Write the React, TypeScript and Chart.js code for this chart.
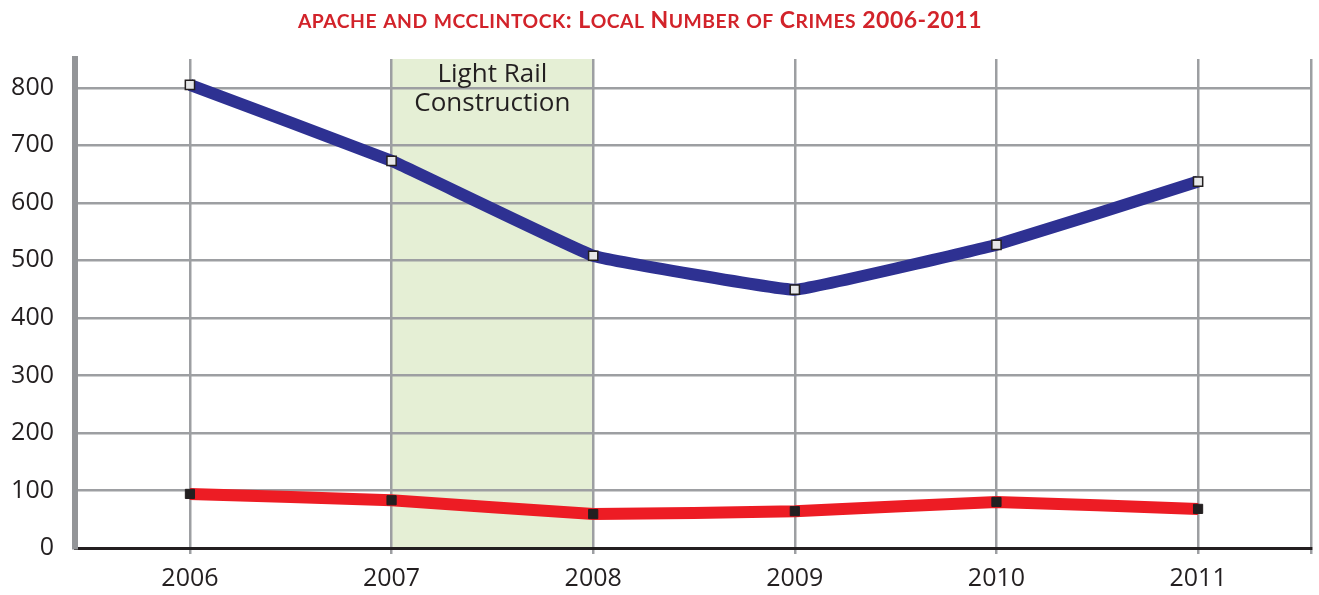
import React, { useEffect, useRef } from "react";
import { Chart, registerables } from "chart.js";

Chart.register(...registerables);

const years = [2006, 2007, 2008, 2009, 2010, 2011];
const apacheValues = [805, 673, 508, 449, 527, 637];
const mcclintockValues = [94, 83, 59, 64, 80, 68];
const constructionStart = 2007;
const constructionEnd = 2008;
const constructionLabel = ["Light Rail", "Construction"];
const titleText = "apache and mcclintock: Local Number of Crimes 2006-2011";

const X_MIN = 2005.43;
const X_MAX = 2011.56;
const TICK_FONT = "'Open Sans', 'Noto Sans', sans-serif";

const shadePlugin = {
  id: "shade",
  beforeDraw(chart: any) {
    const { ctx, chartArea, scales } = chart;
    const x0 = scales.x.getPixelForValue(constructionStart);
    const x1 = scales.x.getPixelForValue(constructionEnd);
    ctx.save();
    ctx.fillStyle = "#e5efd5";
    ctx.fillRect(x0, chartArea.top, x1 - x0, chartArea.bottom - chartArea.top);
    ctx.restore();
  },
  beforeDatasetsDraw(chart: any) {
    const { ctx, chartArea, scales } = chart;
    const x0 = scales.x.getPixelForValue(constructionStart);
    const x1 = scales.x.getPixelForValue(constructionEnd);
    ctx.save();
    ctx.fillStyle = "#231f20";
    ctx.font = `26px ${TICK_FONT}`;
    ctx.textAlign = "center";
    ctx.textBaseline = "middle";
    constructionLabel.forEach((line, i) => {
      ctx.fillText(line, (x0 + x1) / 2, chartArea.top + 16 + i * 29);
    });
    ctx.restore();
  },
};

function SmallCapsTitle({ text }: { text: string }) {
  const parts: { t: string; small: boolean }[] = [];
  for (const ch of text) {
    const small = ch !== ch.toUpperCase();
    const last = parts[parts.length - 1];
    if (last && last.small === small) last.t += small ? ch.toUpperCase() : ch;
    else parts.push({ t: small ? ch.toUpperCase() : ch, small });
  }
  return (
    <>
      {parts.map((p, i) => (
        <span key={i} style={{ fontSize: p.small ? "0.84em" : "1em" }}>
          {p.t}
        </span>
      ))}
    </>
  );
}

export default function App() {
  const ref = useRef<HTMLCanvasElement | null>(null);

  useEffect(() => {
    document.body.style.margin = "0";
    if (!ref.current) return;
    const chart = new Chart(ref.current, {
      type: "line",
      data: {
        datasets: [
          {
            label: "Apache",
            data: years.map((y, i) => ({ x: y, y: apacheValues[i] })),
            borderColor: "#2e3192",
            backgroundColor: "#e6e7e8",
            borderWidth: 12,
            tension: 0.07,
            pointStyle: "rect",
            pointRadius: 6.5,
            pointBackgroundColor: "#e6e7e8",
            pointBorderColor: "#231f20",
            pointBorderWidth: 1.5,
          },
          {
            label: "McClintock",
            data: years.map((y, i) => ({ x: y, y: mcclintockValues[i] })),
            borderColor: "#ed1c24",
            backgroundColor: "#231f20",
            borderWidth: 12,
            tension: 0.07,
            pointStyle: "rect",
            pointRadius: 6.5,
            pointBackgroundColor: "#231f20",
            pointBorderColor: "#231f20",
            pointBorderWidth: 1,
          },
        ],
      },
      options: {
        animation: false,
        responsive: false,
        maintainAspectRatio: false,
        layout: { padding: { left: 0, right: 7, top: 59, bottom: 0 } },
        plugins: {
          legend: { display: false },
          tooltip: { enabled: false },
          title: { display: false },
        },
        scales: {
          x: {
            type: "linear",
            min: X_MIN,
            max: X_MAX,
            afterBuildTicks: (scale: any) => {
              scale.ticks = [...years, X_MAX].map((v) => ({ value: v }));
            },
            afterFit: (scale: any) => {
              scale.height = 47;
              scale.paddingLeft = 0;
              scale.paddingRight = 0;
            },
            grid: {
              color: "#9d9fa2",
              lineWidth: 2.5,
              drawTicks: true,
              tickLength: 6,
            },
            border: { display: true, color: "#231f20", width: 3 },
            ticks: {
              padding: 10,
              color: "#231f20",
              font: { family: TICK_FONT, size: 25 },
              maxRotation: 0,
              autoSkip: false,
              callback: (v: any) => (years.includes(Number(v)) ? String(v) : ""),
            },
          },
          y: {
            min: 0,
            max: 850,
            afterFit: (scale: any) => {
              scale.width = 75;
              scale.paddingTop = 0;
              scale.paddingBottom = 0;
            },
            grid: { color: "#9d9fa2", lineWidth: 2.5, drawTicks: false },
            border: { display: true, color: "#939598", width: 6 },
            ticks: {
              stepSize: 50,
              padding: 21,
              color: "#231f20",
              font: { family: TICK_FONT, size: 25 },
              callback: (v: any) => (Number(v) % 100 === 0 ? String(v) : ""),
            },
          },
        },
      },
      plugins: [shadePlugin],
    });
    return () => chart.destroy();
  }, []);

  return (
    <div style={{ position: "absolute", left: 0, top: 0, width: 1319, height: 595, background: "#fff" }}>
      <div
        style={{
          position: "absolute",
          left: 0,
          top: 4,
          width: 1280,
          textAlign: "center",
          color: "#d2232a",
          fontFamily: "Lato, 'Open Sans', sans-serif",
          fontWeight: 700,
          fontSize: 23,
          letterSpacing: "0.5px",
          lineHeight: "30px",
          whiteSpace: "nowrap",
          zIndex: 2,
        }}
      >
        <SmallCapsTitle text={titleText} />
      </div>
      <canvas ref={ref} width={1319} height={595} style={{ display: "block", width: 1319, height: 595 }} />
    </div>
  );
}
